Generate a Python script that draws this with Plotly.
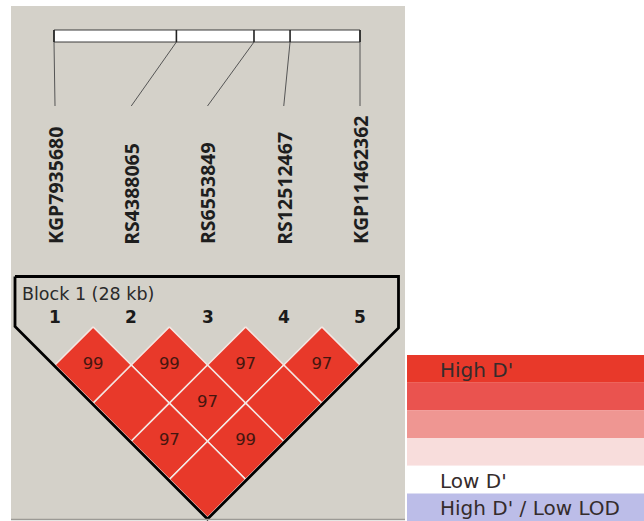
import plotly.graph_objects as go

# Markers in the block and their physical positions (kb from the first marker)
markers = ["KGP7935680", "RS4388065", "RS6553849", "RS12512467", "KGP11462362"]
positions_kb = [0.0, 11.2, 18.3, 21.6, 28.0]
block_label = "Block 1 (28 kb)"

# Pairwise D' (x100); 100 is drawn as an unlabelled full-red cell
pair_i = [0, 1, 2, 3, 0, 1, 2, 0, 1, 0]
pair_j = [1, 2, 3, 4, 2, 3, 4, 3, 4, 4]
dprime = [99, 99, 97, 97, 100, 97, 100, 97, 99, 100]

# Legend entries and their colours
legend_labels = ["High D'", "", "", "", "Low D'", "High D' / Low LOD"]
legend_colors = ["#e8392a", "#ea534f", "#ef9692", "#f8dddc", "#ffffff", "#bcbde8"]

W, H = 644, 521
PANEL = "#d4d1c9"
CELL_RED = "#e8392a"

# layout geometry (pixels)
X0, STEP = 55.0, 76.25          # marker columns
BAR_L, BAR_R = 54.0, 360.0      # physical-position bar span
BAR_T, BAR_B = 30.0, 42.0
CONN_END = 106.0
LABEL_BASE = 246.5
ROW1 = 365.0                    # centre of the first LD row
HALF = STEP / 2

def col_x(i):
    return X0 + i * STEP

def phys_x(kb):
    return BAR_L + (kb - positions_kb[0]) / (positions_kb[-1] - positions_kb[0]) * (BAR_R - BAR_L)

fig = go.Figure()
shapes = []
annotations = []

# grey panel
shapes.append(dict(type="rect", xref="x", yref="y", x0=11, x1=405, y0=6, y1=519,
                   fillcolor=PANEL, line=dict(width=0), layer="below"))
shapes.append(dict(type="line", xref="x", yref="y", x0=11, x1=405, y0=519.5, y1=519.5,
                   line=dict(color="#9c9a95", width=1.5)))

# physical map bar with marker ticks
shapes.append(dict(type="rect", xref="x", yref="y", x0=BAR_L, x1=BAR_R, y0=BAR_T, y1=BAR_B,
                   fillcolor="#ffffff", line=dict(color="#3a3a3a", width=1)))
for kb in positions_kb:
    px = phys_x(kb)
    shapes.append(dict(type="line", xref="x", yref="y", x0=px, x1=px, y0=BAR_T, y1=BAR_B,
                       line=dict(color="#222222", width=1.6)))

# connectors from the bar down to the label columns
for k, kb in enumerate(positions_kb):
    fig.add_trace(go.Scatter(x=[phys_x(kb), col_x(k)], y=[BAR_B, CONN_END], mode="lines",
                             line=dict(color="#555555", width=1), hoverinfo="skip",
                             showlegend=False))

# rotated marker names
for k, name in enumerate(markers):
    annotations.append(dict(x=col_x(k), y=LABEL_BASE, xref="x", yref="y", text=name,
                            textangle=-90, showarrow=False, xanchor="center", yanchor="bottom",
                            font=dict(family="Open Sans", size=19.5, color="#1e1e1e", weight="bold")))

# LD diamonds
for i, j, d in zip(pair_i, pair_j, dprime):
    cx = (col_x(i) + col_x(j)) / 2
    cy = ROW1 + (j - i - 1) * HALF
    fig.add_trace(go.Scatter(
        x=[cx, cx + HALF, cx, cx - HALF, cx],
        y=[cy - HALF, cy, cy + HALF, cy, cy - HALF],
        mode="lines", fill="toself", fillcolor=CELL_RED,
        line=dict(color="#f4e6e2", width=1.5), hoverinfo="skip", showlegend=False))
cell_x = [(col_x(i) + col_x(j)) / 2 for i, j, d in zip(pair_i, pair_j, dprime) if d < 100]
cell_y = [ROW1 + (j - i - 1) * HALF for i, j, d in zip(pair_i, pair_j, dprime) if d < 100]
cell_t = [str(d) for d in dprime if d < 100]
fig.add_trace(go.Scatter(x=cell_x, y=cell_y, mode="text", text=cell_t,
                         textfont=dict(family="DejaVu Sans", size=16.5, color="#45160f"),
                         hoverinfo="skip", showlegend=False))

# block outline
n = len(markers)
top_y, left_x, right_x = 276.5, 15.0, 398.5
tip_x = (col_x(0) + col_x(n - 1)) / 2
tip_y = ROW1 + (n - 2) * HALF + HALF + 1.5
left_y = tip_y - (tip_x - left_x)
right_y = tip_y - (right_x - tip_x)
fig.add_trace(go.Scatter(
    x=[left_x, right_x, right_x, tip_x, left_x, left_x],
    y=[top_y, top_y, right_y, tip_y, left_y, top_y],
    mode="lines", line=dict(color="#000000", width=2.8), hoverinfo="skip", showlegend=False))

annotations.append(dict(x=20, y=294, xref="x", yref="y", text=block_label, showarrow=False,
                        xanchor="left", yanchor="middle",
                        font=dict(family="DejaVu Sans", size=17.5, color="#2a2a2a")))
for k in range(n):
    annotations.append(dict(x=col_x(k), y=317, xref="x", yref="y", text=str(k + 1),
                            showarrow=False, xanchor="center", yanchor="middle",
                            font=dict(family="DejaVu Sans", size=17, color="#1a1a1a", weight="bold")))

# colour legend
LEG_L, LEG_R, LEG_T, ROW_H = 407.0, 644.0, 355.0, 27.7
for k, (lab, col) in enumerate(zip(legend_labels, legend_colors)):
    y0 = LEG_T + k * ROW_H
    shapes.append(dict(type="rect", xref="x", yref="y", x0=LEG_L, x1=LEG_R, y0=y0, y1=y0 + ROW_H,
                       fillcolor=col, line=dict(width=0)))
    if lab:
        annotations.append(dict(x=438, y=y0 + ROW_H / 2 + 1, xref="x", yref="y", text=lab,
                                showarrow=False, xanchor="left", yanchor="middle",
                                font=dict(family="DejaVu Sans", size=20, color="#352c2c")))

fig.update_layout(
    width=W, height=H, margin=dict(l=0, r=0, t=0, b=0),
    paper_bgcolor="#ffffff", plot_bgcolor="#ffffff",
    xaxis=dict(range=[0, W], visible=False, fixedrange=True),
    yaxis=dict(range=[H, 0], visible=False, fixedrange=True),
    shapes=shapes, annotations=annotations, showlegend=False,
)
fig.write_html("out.html")
